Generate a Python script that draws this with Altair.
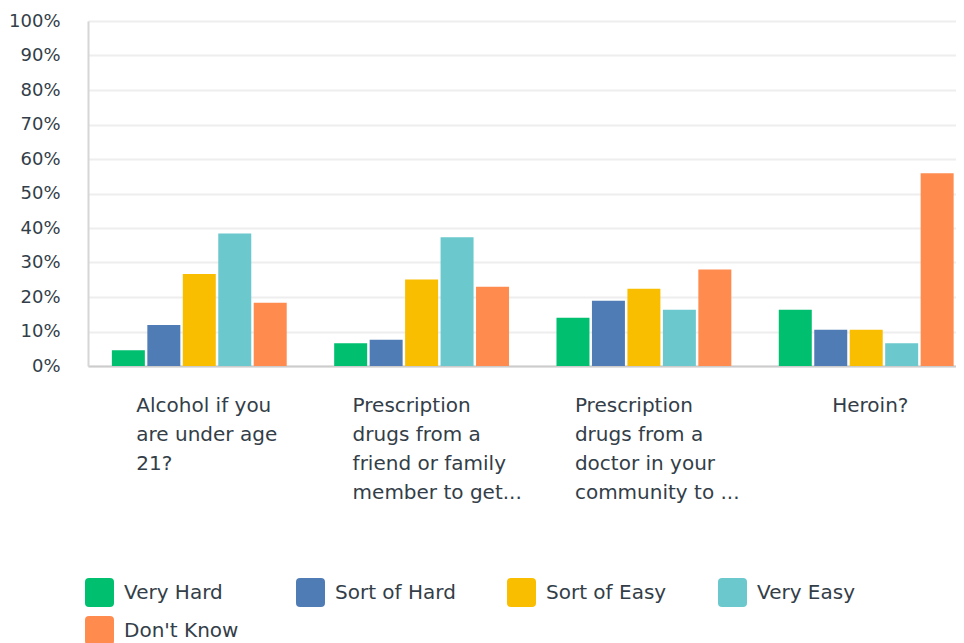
import altair as alt
import pandas as pd

categories = [
    "Alcohol if you|are under age|21?",
    "Prescription|drugs from a|friend or family|member to get...",
    "Prescription|drugs from a|doctor in your|community to ...",
    "Heroin?",
]
answers = ["Very Hard", "Sort of Hard", "Sort of Easy", "Very Easy", "Don't Know"]
colors = ["#00bf6f", "#507cb6", "#f9be00", "#6bc8cd", "#ff8b4f"]

very_hard = [0.046, 0.066, 0.140, 0.163]
sort_of_hard = [0.119, 0.076, 0.189, 0.105]
sort_of_easy = [0.267, 0.251, 0.224, 0.105]
very_easy = [0.384, 0.373, 0.163, 0.066]
dont_know = [0.183, 0.230, 0.280, 0.559]

series = [very_hard, sort_of_hard, sort_of_easy, very_easy, dont_know]
rows = []
for ans, vals in zip(answers, series):
    for cat, v in zip(categories, vals):
        rows.append({"question": cat, "answer": ans, "value": v})
df = pd.DataFrame(rows)

rounded = ("M-0.72,-1 L0.72,-1 Q1,-1 1,-0.72 L1,0.72 Q1,1 0.72,1 "
           "L-0.72,1 Q-1,1 -1,0.72 L-1,-0.72 Q-1,-1 -0.72,-1 Z")

FONT = "DejaVu Sans"
TXT = "#333e48"

label_offset = {
    "condition": [
        {"test": "datum.value == 'Heroin?'", "value": -34},
        {"test": "indexof(datum.value, 'Alcohol') == 0", "value": -63},
    ],
    "value": -69,
}

chart = alt.Chart(df).mark_bar().encode(
    x=alt.X(
        "question:N",
        sort=categories,
        title=None,
        scale=alt.Scale(paddingInner=0.2135, paddingOuter=0.059, align=0.91),
        axis=alt.Axis(
            labelExpr="split(datum.label, '|')",
            labelAngle=0,
            labelAlign="left",
            labelBaseline="top",
            labelOffset=label_offset,
            labelPadding=29,
            labelLineHeight=29,
            labelFontSize=20,
            labelFont=FONT,
            labelColor=TXT,
            ticks=False,
            domainColor="#cccccc",
            domainWidth=2,
            labelLimit=0,
        ),
    ),
    xOffset=alt.XOffset("answer:N", sort=answers, scale=alt.Scale(paddingInner=0.07)),
    y=alt.Y(
        "value:Q",
        title=None,
        scale=alt.Scale(domain=[0, 1]),
        axis=alt.Axis(
            format=".0%",
            values=[i / 10 for i in range(11)],
            ticks=False,
            labelPadding=28,
            labelFontSize=18,
            labelFont=FONT,
            labelColor=TXT,
            domainColor="#d6d6d6",
            domainWidth=2,
            gridColor="#eeeeee",
            gridWidth=2,
        ),
    ),
    color=alt.Color(
        "answer:N",
        sort=answers,
        scale=alt.Scale(domain=answers, range=colors),
        legend=alt.Legend(
            title=None,
            orient="none",
            legendX=-3,
            legendY=557,
            padding=0,
            direction="horizontal",
            columns=4,
            gridAlign="all",
            columnPadding=51,
            rowPadding=9,
            symbolType=rounded,
            symbolSize=841,
            symbolStrokeWidth=0,
            symbolOpacity=1,
            labelFontSize=20,
            labelFont=FONT,
            labelColor=TXT,
            labelOffset=10,
            labelLimit=0,
        ),
    ),
).properties(
    width=868,
    height=345,
    padding={"left": 0, "top": 4, "right": 0, "bottom": 0},
).configure_view(stroke=None).configure_axisX(grid=False)

chart.save("out.html", embed_options={"renderer": "svg", "actions": False})
